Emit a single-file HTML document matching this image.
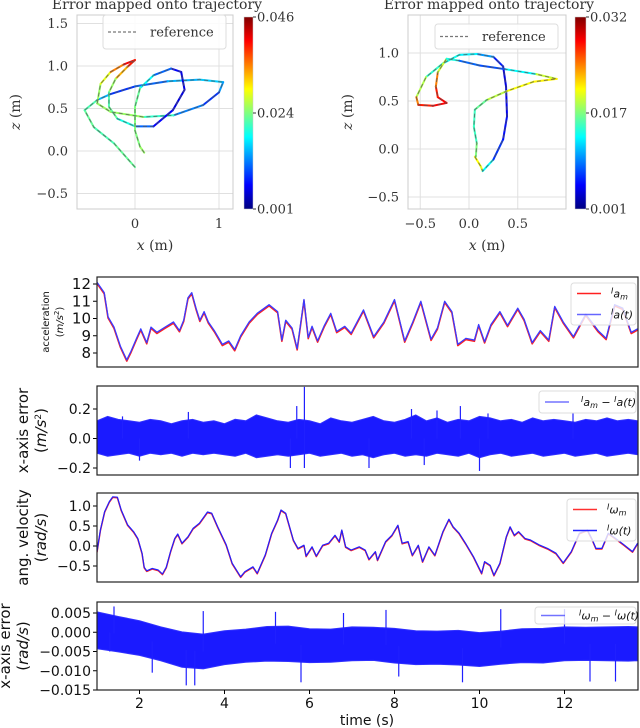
<!DOCTYPE html>
<html><head><meta charset="utf-8"><style>
body{margin:0;background:#fff}
svg{display:block}
.ser{font-family:"DejaVu Serif","Liberation Serif",serif}
.san{font-family:"DejaVu Sans","Liberation Sans",sans-serif}
</style></head><body>
<svg id="fig" width="640" height="728" viewBox="0 0 640 728" xmlns="http://www.w3.org/2000/svg">
<defs>
<linearGradient id="jet" x1="0" y1="1" x2="0" y2="0">
<stop offset="0" stop-color="#00007f"/><stop offset="0.125" stop-color="#0000ff"/><stop offset="0.375" stop-color="#00ffff"/><stop offset="0.625" stop-color="#ffff00"/><stop offset="0.875" stop-color="#ff0000"/><stop offset="1" stop-color="#7f0000"/>
</linearGradient>
<clipPath id="cL"><rect x="77" y="15" width="156" height="194"/></clipPath>
<clipPath id="cR"><rect x="408" y="15" width="158" height="194"/></clipPath>
<clipPath id="c1"><rect x="97" y="277" width="541" height="90"/></clipPath>
<clipPath id="c2"><rect x="97" y="386" width="541" height="89"/></clipPath>
<clipPath id="c3"><rect x="97" y="493" width="541" height="89"/></clipPath>
<clipPath id="c4"><rect x="97" y="602" width="541" height="88"/></clipPath>
</defs>
</svg>
<script>
// ---------- data ----------
const trajLeft = [[0,-0.19,0.5],[-0.25,0.09,0.45],[-0.49,0.28,0.45],[-0.6,0.48,0.5],[-0.45,0.6,0.4],[-0.29,0.67,0.2],[0,0.76,0.15],[0.39,0.82,0.3],[0.77,0.84,0.3],[1.05,0.81,0.35],[1.0,0.69,0.2],[0.81,0.54,0.15],[0.46,0.42,0.35],[0.1,0.4,0.5],[-0.29,0.46,0.55],[-0.45,0.56,0.5],[-0.41,0.79,0.55],[-0.29,0.93,0.65],[-0.13,1.02,0.85],[0,1.07,0.9],[-0.09,0.99,0.8],[-0.23,0.85,0.6],[-0.31,0.69,0.45],[-0.31,0.52,0.45],[-0.21,0.38,0.5],[0,0.29,0.3],[0.22,0.29,0.15],[0.45,0.48,0.1],[0.59,0.72,0.1],[0.55,0.93,0.1],[0.43,0.97,0.15],[0.22,0.89,0.3],[0.06,0.74,0.45],[0,0.52,0.5],[0,0.24,0.5],[0.06,0.05,0.5],[0.11,-0.02,0.55]];
const trajRight = [[0.06,-0.08,0.6],[0.12,-0.18,0.65],[0.14,-0.23,0.55],[0.25,-0.11,0.2],[0.35,0.1,0.15],[0.39,0.34,0.12],[0.38,0.65,0.1],[0.35,0.86,0.1],[0.25,0.96,0.2],[0.08,0.99,0.35],[-0.1,0.98,0.38],[-0.27,0.89,0.4],[-0.44,0.75,0.45],[-0.54,0.54,0.65],[-0.52,0.46,0.85],[-0.37,0.45,0.85],[-0.23,0.48,0.9],[-0.32,0.54,0.85],[-0.34,0.65,0.85],[-0.32,0.8,0.65],[-0.23,0.94,0.5],[-0.1,0.92,0.3],[0.11,0.87,0.15],[0.38,0.83,0.25],[0.69,0.78,0.5],[0.9,0.73,0.65],[0.66,0.7,0.62],[0.38,0.6,0.62],[0.18,0.51,0.5],[0.06,0.41,0.45],[0.05,0.23,0.42],[0.08,0.06,0.45],[0.07,-0.08,0.55]];
const accT = [1.0,1.17,1.26,1.4,1.55,1.7,1.8,1.93,2.03,2.17,2.27,2.41,2.6,2.8,2.94,3.04,3.14,3.23,3.33,3.42,3.52,3.62,3.76,3.95,4.1,4.24,4.38,4.58,4.77,5.05,5.25,5.35,5.44,5.59,5.71,5.87,5.97,6.06,6.19,6.35,6.5,6.64,6.83,6.98,7.27,7.51,7.75,8.0,8.24,8.43,8.62,8.86,9.01,9.18,9.35,9.49,9.68,9.88,9.98,10.12,10.27,10.48,10.66,10.9,11.05,11.24,11.43,11.63,11.77,11.97,12.21,12.5,12.79,12.98,13.18,13.37,13.57,13.72];
const accV = [12.1,11.5,10.1,9.5,8.4,7.6,8.1,8.85,9.4,8.6,9.5,9.2,9.5,9.8,9.3,9.9,11.2,11.5,10.6,9.9,10.4,9.8,9.3,8.5,8.7,8.2,9.0,9.8,10.3,10.8,10.4,8.75,9.9,9.45,8.25,11.1,8.9,9.55,8.7,9.6,10.3,9.25,9.55,9.15,10.5,8.95,9.8,11.1,8.7,9.8,11.0,8.8,9.45,11.0,10.4,8.5,8.85,8.75,9.65,8.65,9.65,10.4,9.6,10.6,9.95,8.6,9.3,8.75,10.7,9.8,8.95,10.25,9.3,8.85,10.8,10.6,9.2,9.4];
const accErrT = [1,1.25,1.5,1.75,2,2.25,2.5,2.75,3,3.25,3.5,3.75,4,4.25,4.5,4.75,5,5.25,5.5,5.75,6,6.25,6.5,6.75,7,7.25,7.5,7.75,8,8.25,8.5,8.75,9,9.25,9.5,9.75,10,10.25,10.5,10.75,11,11.25,11.5,11.75,12,12.25,12.5,12.75,13,13.25,13.5,13.72];
const accErrUp = [0.12,0.15,0.13,0.12,0.11,0.13,0.12,0.1,0.12,0.13,0.11,0.12,0.1,0.13,0.12,0.16,0.14,0.12,0.11,0.13,0.12,0.1,0.14,0.12,0.11,0.13,0.15,0.12,0.11,0.13,0.16,0.12,0.14,0.11,0.13,0.12,0.15,0.14,0.12,0.13,0.11,0.14,0.12,0.13,0.12,0.11,0.13,0.12,0.14,0.12,0.13,0.12];
const accErrLo = [-0.1,-0.12,-0.11,-0.1,-0.12,-0.1,-0.11,-0.1,-0.12,-0.1,-0.11,-0.1,-0.11,-0.12,-0.1,-0.13,-0.12,-0.11,-0.12,-0.11,-0.1,-0.12,-0.11,-0.1,-0.12,-0.11,-0.13,-0.11,-0.1,-0.12,-0.11,-0.12,-0.1,-0.11,-0.12,-0.1,-0.13,-0.11,-0.1,-0.12,-0.11,-0.1,-0.12,-0.11,-0.1,-0.12,-0.11,-0.1,-0.12,-0.11,-0.1,-0.11];
const accSpikeT = [1.6,2.0,3.15,5.55,5.7,5.88,5.88,7.4,8.4,8.7,9.0,9.55,10.0,10.2,12.2];
const accSpikeV = [0.15,-0.15,0.18,-0.2,0.22,0.35,-0.2,-0.2,0.2,-0.18,0.19,0.22,-0.22,0.17,0.17];
const angT = [1.0,1.08,1.18,1.29,1.37,1.48,1.57,1.72,1.86,1.96,2.06,2.11,2.17,2.3,2.44,2.54,2.63,2.73,2.83,2.9,3.0,3.14,3.26,3.41,3.6,3.7,3.84,4.04,4.18,4.38,4.48,4.67,4.77,4.96,5.11,5.25,5.33,5.44,5.62,5.73,5.87,5.92,6.06,6.16,6.31,6.45,6.6,6.7,6.76,6.85,6.98,7.17,7.31,7.4,7.55,7.6,7.79,7.94,8.08,8.18,8.32,8.42,8.56,8.66,8.81,8.95,9.14,9.28,9.38,9.52,9.67,9.86,10.05,10.12,10.25,10.34,10.48,10.63,10.72,10.82,10.92,11.07,11.2,11.4,11.6,11.8,11.97,12.16,12.35,12.54,12.64,12.74,12.88,13.03,13.2,13.4,13.6,13.72];
const angV = [-0.14,0.4,0.86,1.11,1.23,1.22,0.9,0.53,0.36,0.19,-0.18,-0.53,-0.62,-0.56,-0.6,-0.7,-0.53,-0.14,0.19,0.3,0.07,0.23,0.44,0.57,0.85,0.82,0.48,0.03,-0.43,-0.77,-0.64,-0.52,-0.68,-0.22,0.32,0.65,0.9,0.82,0.15,-0.06,0.02,-0.25,-0.02,-0.25,0.02,0.07,0.27,0.11,0.4,-0.02,-0.1,-0.02,-0.1,-0.33,-0.14,-0.35,0.11,0.27,0.52,0.07,0.11,-0.23,0.02,-0.39,-0.02,-0.23,0.36,0.67,0.48,0.32,0.07,-0.27,-0.68,-0.39,-0.48,-0.73,-0.43,0.23,0.48,0.27,0.36,0.19,0.15,0.03,-0.06,-0.18,-0.42,-0.14,0.32,0.4,0.19,-0.06,-0.06,0.32,0.19,0.03,-0.14,0.07];
const angErrT = [1,1.5,2,2.5,3,3.5,4,4.5,5,5.5,6,6.5,7,7.5,8,8.5,9,9.5,10,10.5,11,11.5,12,12.5,13,13.5,13.72];
const angErrMean = [0.0005,-0.0005,-0.0015,-0.003,-0.0045,-0.005,-0.004,-0.0035,-0.003,-0.003,-0.0035,-0.0035,-0.003,-0.003,-0.0035,-0.004,-0.004,-0.004,-0.0045,-0.004,-0.0035,-0.0035,-0.003,-0.003,-0.003,-0.003,-0.003];
const angErrHalf = [0.0048,0.0046,0.0045,0.0044,0.0046,0.0045,0.0044,0.0043,0.0045,0.0046,0.0044,0.0043,0.0044,0.0043,0.0045,0.0044,0.0043,0.0045,0.0044,0.0043,0.0044,0.0045,0.0044,0.0043,0.0044,0.0045,0.0044];
const angSpikeT = [1.3,1.4,2.3,3.1,3.3,3.5,5.2,5.8,6.8,7.8,8.1,9.6,10.5,12.0,12.6,13.2];
const angSpikeV = [-0.005,0.0067,-0.0105,-0.0138,-0.0138,0.0055,0.0053,-0.013,0.005,0.0058,-0.0115,-0.013,0.006,0.006,-0.0128,-0.0128];
const tTicks = [2,4,6,8,10,12];
const p1Ticks = [8,9,10,11,12];
const p2Ticks = [-0.2,0.0,0.2];
const p3Ticks = [-0.5,0.0,0.5,1.0];
const p4Ticks = [-0.015,-0.010,-0.005,0.000,0.005];
const lXTicks = [0,1], lZTicks = [-0.5,0.0,0.5,1.0,1.5];
const rXTicks = [-0.5,0.0,0.5], rZTicks = [-0.5,0.0,0.5,1.0];

// ---------- helpers ----------
const NS='http://www.w3.org/2000/svg';
const svg=document.getElementById('fig');
function mk(tag,attrs,parent){const e=document.createElementNS(NS,tag);for(const k in attrs)e.setAttribute(k,attrs[k]);(parent||svg).appendChild(e);return e;}
function lin(d0,d1,r0,r1){return v=>r0+(v-d0)*(r1-r0)/(d1-d0);}
function jet(v){v=Math.max(0,Math.min(1,v));const st=[[0,[0,0,127]],[0.125,[0,0,255]],[0.375,[0,255,255]],[0.625,[255,255,0]],[0.875,[255,0,0]],[1,[127,0,0]]];for(let i=1;i<st.length;i++){if(v<=st[i][0]){const a=st[i-1],b=st[i],f=(v-a[0])/(b[0]-a[0]);return 'rgb('+a[1].map((c,j)=>Math.round(c+(b[1][j]-c)*f)).join(',')+')';}}return 'rgb(127,0,0)';}

// ---------- top trajectory plots ----------
function traj(o){
  const g=mk('g',{});
  
  
  const X=lin(0,1,o.x0,o.x1),Z=lin(0,1,o.z0,o.z1);
  // grid
  o.xt.forEach(v=>{const l=mk('line',{x1:X(v),x2:X(v),y1:o.top,y2:o.bot,stroke:'#e0e0e0','stroke-width':1},g);});
  o.zt.forEach(v=>{const l=mk('line',{x1:o.left,x2:o.right,y1:Z(v),y2:Z(v),stroke:'#e0e0e0','stroke-width':1},g);});
  const fr=mk('rect',{x:o.left,y:o.top,width:o.right-o.left,height:o.bot-o.top,fill:'none',stroke:'#cccccc','stroke-width':1},g);
  
  const cg=mk('g',{'clip-path':o.clip},g);
  for(let i=1;i<o.data.length;i++){const a=o.data[i-1],b=o.data[i];
    const s=mk('line',{x1:X(a[0]),y1:Z(a[1]),x2:X(b[0]),y2:Z(b[1]),stroke:jet((a[2]+b[2])/2),'stroke-width':2,'stroke-linecap':'round'},cg);
    }
  const ref=mk('polyline',{points:o.data.map(p=>X(p[0])+','+Z(p[1])).join(' '),fill:'none',stroke:'#555','stroke-width':1,'stroke-dasharray':'4,3',opacity:0.75},cg);
  
  o.xt.forEach(v=>{const t=mk('text',{x:X(v),y:o.bot+19,'text-anchor':'middle','font-size':13,class:'ser',fill:'#333'},g);t.textContent=v<0?'\u2212'+Math.abs(v).toFixed(o.xd):v.toFixed(o.xd);});
  o.zt.forEach(v=>{const t=mk('text',{x:o.left-9,y:Z(v)+4.5,'text-anchor':'end','font-size':13,class:'ser',fill:'#333'},g);t.textContent=v<0?'\u2212'+Math.abs(v).toFixed(1):v.toFixed(1);});
  const ti=mk('text',{x:(o.left+o.right)/2+2,y:9,'text-anchor':'middle','font-size':14,class:'ser',fill:'#333'},g);ti.textContent='Error mapped onto trajectory';
  const xl=mk('text',{x:(o.left+o.right)/2,y:250,'text-anchor':'middle','font-size':14,class:'ser',fill:'#333'},g);xl.innerHTML='<tspan font-style="italic">x</tspan> (m)';
  const zl=mk('text',{x:0,y:0,'text-anchor':'middle','font-size':14,class:'ser',fill:'#333',transform:'translate('+o.zlx+',112) rotate(-90)'},g);zl.innerHTML='<tspan font-style="italic">z</tspan> (m)';
  // legend
  const lg=mk('g',{},g);
  mk('rect',{x:o.lg[0],y:o.lg[1],width:o.lg[2],height:o.lg[3],rx:3,fill:'#fff','fill-opacity':0.85,stroke:'#ddd'},lg);
  mk('line',{x1:o.lg[0]+5,x2:o.lg[0]+33,y1:o.lg[1]+o.lg[3]/2,y2:o.lg[1]+o.lg[3]/2,stroke:'#777','stroke-width':1.2,'stroke-dasharray':'3,2'},lg);
  const lt=mk('text',{x:o.lg[0]+47,y:o.lg[1]+o.lg[3]/2+4.5,'font-size':13,class:'ser',fill:'#333'},lg);lt.textContent='reference';
  // colorbar
  const cb=mk('g',{},g);
  mk('rect',{x:o.cb[0],y:17,width:o.cb[1],height:192,fill:'url(#jet)',stroke:'#ccc','stroke-width':0.5},cb);
  o.cbl.forEach((s,i)=>{const y=[209,113,17][i];mk('line',{x1:o.cb[0]+o.cb[1],x2:o.cb[0]+o.cb[1]+3,y1:y,y2:y,stroke:'#333'},cb);const t=mk('text',{x:o.cb[0]+o.cb[1]+4,y:y+4.5,'font-size':13,class:'ser',fill:'#333'},cb);t.textContent=s;});
}
traj({name:'trajectory-plot-left',data:trajLeft,x0:135,x1:219,z0:151,z1:66,left:77,right:233,top:15,bot:209,clip:'url(#cL)',xt:lXTicks,zt:lZTicks,xd:0,zlx:20,lg:[103,15,123,34],cb:[244,9],cbl:['0.001','0.024','0.046']});
traj({name:'trajectory-plot-right',data:trajRight,x0:469,x1:566.5,z0:149,z1:53,left:408,right:566,top:15,bot:209,clip:'url(#cR)',xt:rXTicks,zt:rZTicks,xd:1,zlx:352,lg:[435,24,123,25],cb:[575,11],cbl:['0.001','0.017','0.032']});

// ---------- time series ----------
const X=lin(2,12,139.5,564.5);
function panel(o){
  const g=mk('g',{});
  
  
  const Y=o.Y;
  o.ticks.forEach(v=>{mk('line',{x1:93,x2:97,y1:Y(v),y2:Y(v),stroke:'#000'},g);const t=mk('text',{x:91,y:Y(v)+5,'text-anchor':'end','font-size':o.fs||14,class:'san',fill:'#111'},g);t.textContent=v<0?'\u2212'+Math.abs(v).toFixed(o.dec):v.toFixed(o.dec);});
  const cg=mk('g',{'clip-path':o.clip},g);
  o.draw(cg,Y);
  const fr=mk('rect',{x:97,y:o.top,width:541,height:o.bot-o.top,fill:'none',stroke:'#222','stroke-width':1.2},g);
  o.ylab.forEach((s,i)=>{const t=mk('text',{x:0,y:0,'text-anchor':'middle','font-size':o.yfs[i],class:'san',fill:'#111',transform:'translate('+o.ylx[i]+','+((o.top+o.bot)/2)+') rotate(-90)'},g);t.innerHTML=s;});
  const lg=mk('g',{},g);
  mk('rect',{x:o.lg[0],y:o.lg[1],width:o.lg[2],height:o.lg[3],rx:3,fill:'#fff','fill-opacity':0.8,stroke:'#ddd'},lg);
  o.entries.forEach((e,i)=>{const y=o.lg[1]+(i+0.5)*o.lg[3]/o.entries.length;mk('line',{x1:o.lg[0]+6,x2:o.lg[0]+30,y1:y,y2:y,stroke:e[0],'stroke-width':1.5,opacity:e[2]||1},lg);const t=mk('text',{x:o.lg[0]+o.tx,y:y+4,'font-size':11,class:'san',fill:'#111','font-style':'italic'},lg);t.innerHTML=e[1];});
}
function line(cg,T,V,Y,color,w,dy,name){const p=mk('polyline',{points:T.map((t,i)=>X(t)+','+(Y(V[i])+dy)).join(' '),fill:'none',stroke:color,'stroke-width':w,'stroke-linejoin':'round'},cg);}
function band(cg,T,Up,Lo,Y,name){const pts=T.map((t,i)=>X(t)+','+Y(Up[i])).concat(T.slice().reverse().map((t,j)=>X(t)+','+Y(Lo[T.length-1-j])));const p=mk('polygon',{points:pts.join(' '),fill:'#1a1aff',stroke:'#3030ff','stroke-width':1},cg);}
function spikes(cg,T,V,Y,base){T.forEach((t,i)=>{const s=mk('line',{x1:X(t),x2:X(t),y1:Y(base(t)),y2:Y(V[i]),stroke:'#2020ff','stroke-width':1.2},cg);});}
function interp(T,V,t){for(let i=1;i<T.length;i++)if(t<=T[i]){const f=(t-T[i-1])/(T[i]-T[i-1]);return V[i-1]+f*(V[i]-V[i-1]);}return V[V.length-1];}
const sup='<tspan font-size="8" dy="-4">I</tspan><tspan dy="4">';
panel({name:'acceleration-panel',top:277,bot:367,Y:lin(8,12,353,284),ticks:p1Ticks,dec:0,fs:15,clip:'url(#c1)',
  draw:(cg,Y)=>{line(cg,accT,accV,Y,'#ff2020',1.6,1.2,'measured-acceleration-line');line(cg,accT,accV,Y,'#3a3aff',1.3,0,'true-acceleration-line');},
  ylab:['acceleration','(<tspan font-style="italic">m/s</tspan><tspan font-size="7" dy="-4">2</tspan><tspan dy="4">)</tspan>'],yfs:[10,10],ylx:[49,63],
  lg:[571,283,65,42],tx:40,entries:[['#ff2020',sup+'a</tspan><tspan font-size="8" dy="2">m</tspan>'],['#4040ff',sup+'a(t)</tspan>',0.8]]});
panel({name:'acceleration-error-panel',top:386,bot:475,Y:lin(-0.2,0.2,468,409),ticks:p2Ticks,dec:1,clip:'url(#c2)',
  draw:(cg,Y)=>{band(cg,accErrT,accErrUp,accErrLo,Y,'acceleration-error-band');spikes(cg,accSpikeT,accSpikeV,Y,()=>0);},
  ylab:['x-axis error','(<tspan font-style="italic">m/s</tspan><tspan font-size="9" dy="-5">2</tspan><tspan dy="5">)</tspan>'],yfs:[15,15],ylx:[28,46],
  lg:[539,391,97,22],tx:42,entries:[['#5050ff',sup+'a</tspan><tspan font-size="8" dy="2">m</tspan><tspan dy="-2"> \u2212 </tspan>'+sup+'a(t)</tspan>',0.8]]});
panel({name:'angular-velocity-panel',top:493,bot:582,Y:lin(-0.5,1.0,566,506),ticks:p3Ticks,dec:1,clip:'url(#c3)',
  draw:(cg,Y)=>{line(cg,angT,angV,Y,'#ff2020',1.5,0.6,'measured-angular-velocity-line');line(cg,angT,angV,Y,'#2020ff',1.2,0,'true-angular-velocity-line');},
  ylab:['ang. velocity','(<tspan font-style="italic">rad/s</tspan>)'],yfs:[15,15],ylx:[28,46],
  lg:[567,499,69,42],tx:40,entries:[['#ff3030','<tspan font-size="8" dy="-4">I</tspan><tspan dy="4">\u03c9</tspan><tspan font-size="8" dy="2">m</tspan>'],['#2020ff','<tspan font-size="8" dy="-4">I</tspan><tspan dy="4">\u03c9(t)</tspan>']]});
const angLo=angErrMean.map((m,i)=>m-angErrHalf[i]), angUp=angErrMean.map((m,i)=>m+angErrHalf[i]);
panel({name:'angular-velocity-error-panel',top:602,bot:690,Y:lin(-0.015,0.005,690,613),ticks:p4Ticks,dec:3,clip:'url(#c4)',
  draw:(cg,Y)=>{band(cg,angErrT,angUp,angLo,Y,'angular-velocity-error-band');spikes(cg,angSpikeT,angSpikeV,Y,t=>interp(angErrT,angErrMean,t));},
  ylab:['x-axis error','(<tspan font-style="italic">rad/s</tspan>)'],yfs:[15,15],ylx:[10,28],
  lg:[535,607,101,17],tx:44,entries:[['#5050ff','<tspan font-size="8" dy="-4">I</tspan><tspan dy="4">\u03c9</tspan><tspan font-size="8" dy="2">m</tspan><tspan dy="-2"> \u2212 </tspan><tspan font-size="8" dy="-4">I</tspan><tspan dy="4">\u03c9(t)</tspan>',0.8]]});
// time axis
tTicks.forEach(v=>{mk('line',{x1:X(v),x2:X(v),y1:690,y2:694,stroke:'#000'});const t=mk('text',{x:X(v),y:708,'text-anchor':'middle','font-size':14,class:'san',fill:'#111'});t.textContent=String(v);});
const tl=mk('text',{x:367,y:725,'text-anchor':'middle','font-size':14,class:'san',fill:'#111'});tl.textContent='time (s)';


</script>
</body></html>
